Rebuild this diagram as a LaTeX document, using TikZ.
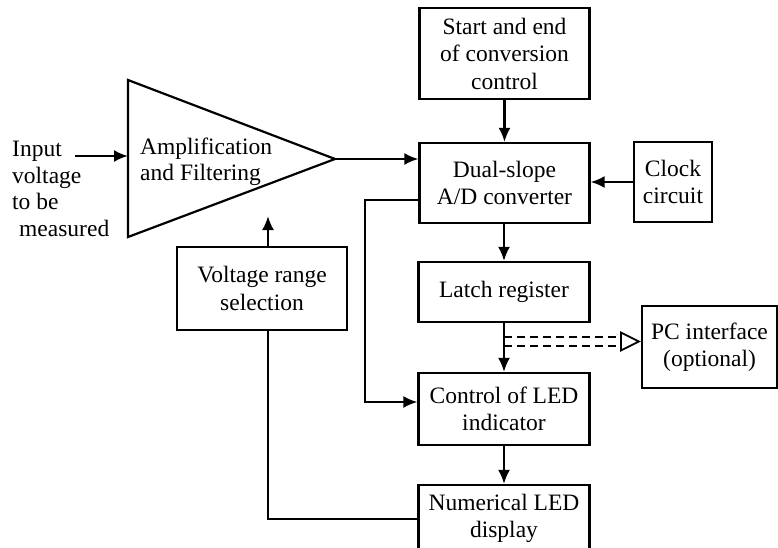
\documentclass[tikz,border=0pt]{standalone}
\usepackage{fontspec}
\setmainfont{Liberation Serif}
\usetikzlibrary{arrows.meta,calc}
\begin{document}
\begin{tikzpicture}[x=1pt,y=-1pt,
  blk/.style={draw,line width=2.2pt,minimum width=170pt,align=center,inner sep=2pt,
    font=\fontsize{23.5}{27.5}\selectfont},
  arr/.style={line width=2.2pt,-{Latex[length=14pt,width=12pt]}},
  ln/.style={line width=2.2pt},
  txt/.style={font=\fontsize{23.5}{26.5}\selectfont,inner sep=0pt}]
\useasboundingbox (0,0) rectangle (778,548);
% blocks
\node[blk,minimum height=91pt] (start) at (504.5,53.5) {Start and end\\of conversion\\control};
\node[blk,minimum height=80pt] (dual) at (504.5,183) {Dual-slope\\A/D converter};
\node[blk,minimum width=78pt,minimum height=80pt] (clock) at (673,182) {Clock\\circuit};
\node[blk,minimum width=171pt,minimum height=60pt] (latch) at (504,292) {Latch register};
\node[blk,minimum width=171pt,minimum height=72pt] (ctrl) at (504,409) {Control of LED\\indicator};
\node[blk,minimum width=171pt,minimum height=67pt] (num) at (504,518.5) {Numerical LED\\display};
\node[blk,minimum width=135pt,minimum height=82pt] (pc) at (709.5,347) {PC interface\\(optional)};
\node[blk,minimum width=170pt,minimum height=83pt] (vr) at (262,288.5) {Voltage range\\selection};
% amplifier triangle
\coordinate (tl) at (128,80);
\coordinate (bl) at (128,237);
\coordinate (apex) at (335,159);
\draw[ln,line join=miter] (tl) -- (apex) -- (bl) -- cycle;
\node[txt,anchor=west,align=left] (amp) at (140,162) {Amplification\\and Filtering};
\node[txt,anchor=west,align=left] (inp) at (12,189) {Input\\voltage\\to be\\\hspace{7pt}measured};
% connectors
\coordinate (inS) at (75,156);
\draw[arr] (inS) -- (inS -| tl);
\draw[arr] (apex) -- (apex -| dual.west);
\draw[arr] (start) -- (dual);
\draw[arr] (clock.west) -- (clock.west -| dual.east);
\draw[arr] (dual.south -| latch.north) -- (latch.north);
\draw[arr] (latch) -- (ctrl);
\draw[arr] (ctrl) -- (num);
\coordinate (fbA) at (365,200);
\coordinate (fbB) at (365,402);
\draw[arr] (dual.west |- fbA) -- (fbA) -- (fbB) -- (fbB -| ctrl.west);
\coordinate (vrtip) at (268,216);
\draw[arr] (vrtip |- vr.north) -- (vrtip);
\coordinate (fbC) at (268,519);
\draw[ln] (num.west |- fbC) -- (fbC) -- (fbC |- vr.south);
% dashed optional link
\coordinate (pcin) at (pc.west |- 0,341.5);
\coordinate (dsA) at (latch.south |- 0,337);
\coordinate (dsB) at (latch.south |- 0,346);
\draw[line width=1.8pt,dash pattern=on 8pt off 5pt] (dsA) -- (dsA -| 621,0);
\draw[line width=1.8pt,dash pattern=on 8pt off 5pt] (dsB) -- (dsB -| 621,0);
\draw[line width=1.8pt,line join=miter] ($(pcin)+(-20,-9)$) -- ($(pcin)+(-2,0)$) -- ($(pcin)+(-20,9)$) -- cycle;
\end{tikzpicture}
\end{document}
